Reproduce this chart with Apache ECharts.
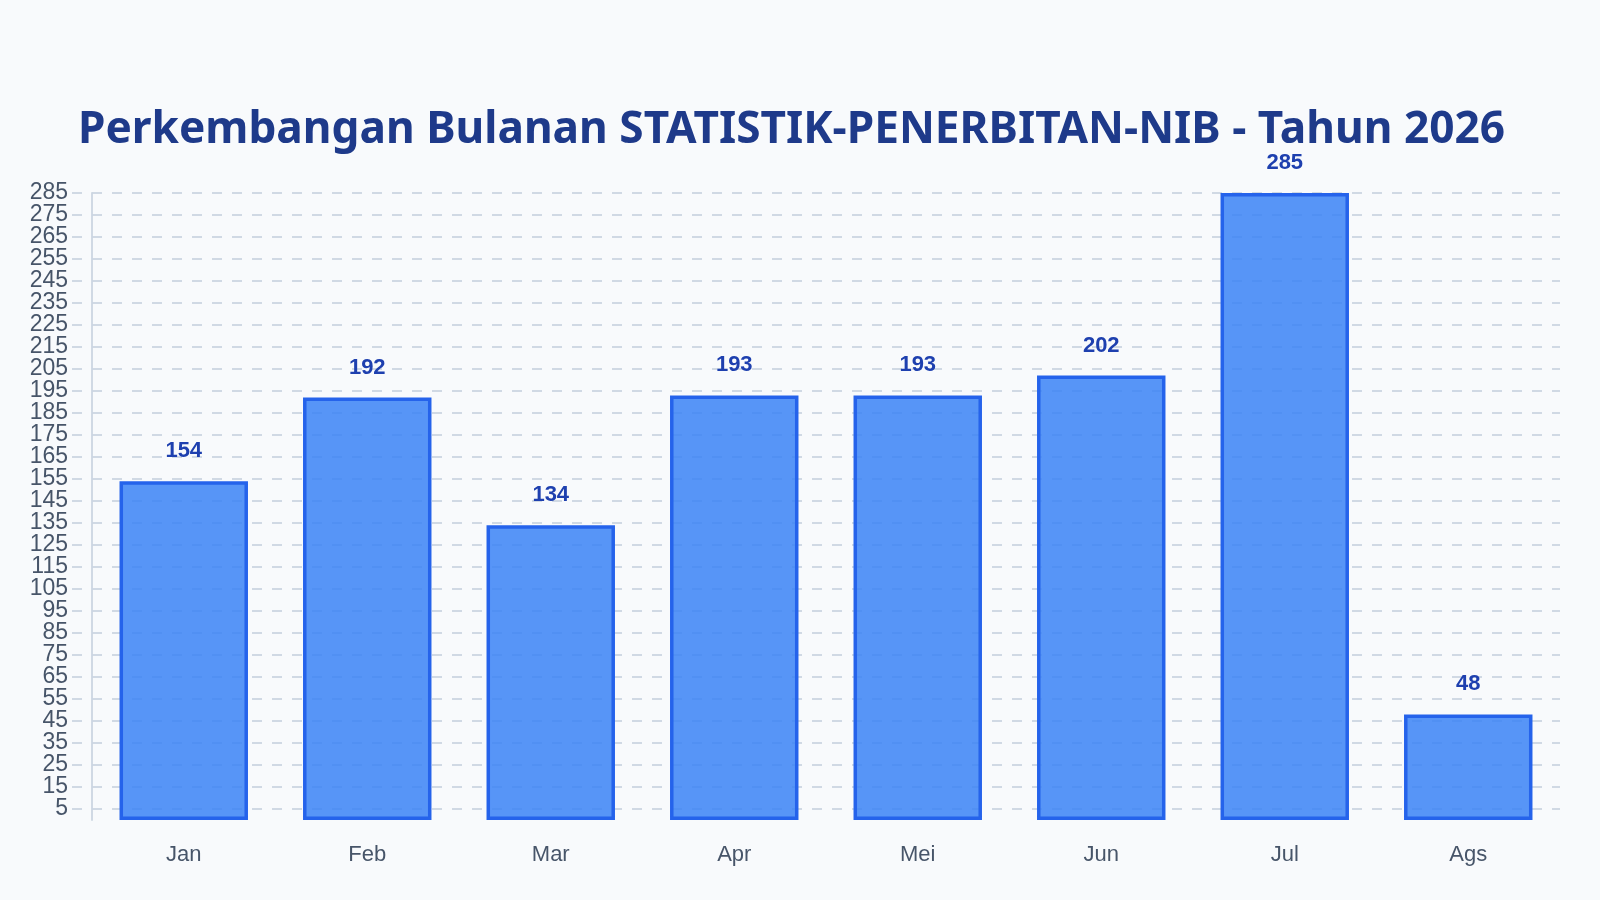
<!DOCTYPE html>
<html>
<head>
<meta charset="utf-8">
<title>Perkembangan Bulanan STATISTIK-PENERBITAN-NIB</title>
<script src="https://cdn.jsdelivr.net/npm/echarts@6/dist/echarts.min.js"></script>
<style>
  html, body { margin: 0; padding: 0; background: #f8fafc; }
  #chart { width: 1600px; height: 900px; }
</style>
</head>
<body>
<div id="chart"></div>
<script>
// Monthly counts
const months = ['Jan', 'Feb', 'Mar', 'Apr', 'Mei', 'Jun', 'Jul', 'Ags'];
const counts = [154, 192, 134, 193, 193, 202, 285, 48];

// Y scale: bars sit on 0, tick labels run 5, 15, ... 285
const valueMin = 0;
const valueMax = 285;
const tickStart = -5;
const tickStep = 10;

const titleText = 'Perkembangan Bulanan STATISTIK-PENERBITAN-NIB - Tahun 2026';

const chart = echarts.init(document.getElementById('chart'), null, { renderer: 'canvas' });

const gridColor = '#cbd5e1';
const labelColor = '#475569';
const yLabelStyle = {
  fontFamily: 'Liberation Sans',
  fontSize: 23,
  color: labelColor
};

chart.setOption({
  backgroundColor: '#f8fafc',
  animation: false,
  title: {
    text: titleText,
    left: 73,
    top: 103,
    textStyle: {
      fontFamily: 'Noto Sans',
      fontSize: 44.2,
      fontWeight: 'bold',
      color: '#1e3a8a'
    }
  },
  grid: [
    // bars
    { left: 92, right: 40, top: 193, bottom: 80 },
    // tick labels + dashed grid (one step lower so ticks fall on 5, 15, ...)
    { left: 72, right: 40, top: 193, bottom: 69 }
  ],
  xAxis: [
    {
      gridIndex: 0,
      type: 'category',
      data: months,
      axisLine: { show: false },
      axisTick: { show: false },
      axisLabel: {
        margin: 24,
        fontFamily: 'Liberation Sans',
        fontSize: 22,
        color: labelColor
      }
    },
    {
      gridIndex: 1,
      type: 'category',
      data: months,
      show: false
    }
  ],
  yAxis: [
    {
      gridIndex: 0,
      type: 'value',
      min: valueMin,
      max: valueMax,
      axisLine: { show: true, lineStyle: { color: gridColor, width: 1.8 } },
      axisTick: { show: false },
      // only the top label (285) comes from this axis
      axisLabel: Object.assign({
        margin: 24,
        showMaxLabel: true,
        showMinLabel: false,
        formatter: v => (v === valueMax ? String(v) : '')
      }, yLabelStyle),
      splitLine: { show: false }
    },
    {
      gridIndex: 1,
      type: 'value',
      min: tickStart,
      max: valueMax,
      interval: tickStep,
      axisLine: { show: false },
      axisTick: { show: false },
      axisLabel: Object.assign({
        showMinLabel: false,
        showMaxLabel: false,
        margin: 4
      }, yLabelStyle),
      splitLine: {
        show: true,
        showMinLine: false,
        lineStyle: { color: gridColor, width: 1.8, type: [10, 10] }
      }
    }
  ],
  series: [
    {
      type: 'bar',
      xAxisIndex: 0,
      yAxisIndex: 0,
      data: counts,
      barWidth: '70%',
      itemStyle: {
        color: 'rgba(59, 130, 246, 0.85)',
        borderColor: '#2563eb',
        borderWidth: 3.5
      },
      label: {
        show: true,
        position: 'top',
        distance: 19,
        fontFamily: 'Liberation Sans',
        fontSize: 22,
        fontWeight: 'bold',
        color: '#1e40af'
      }
    }
  ]
});
</script>
</body>
</html>
